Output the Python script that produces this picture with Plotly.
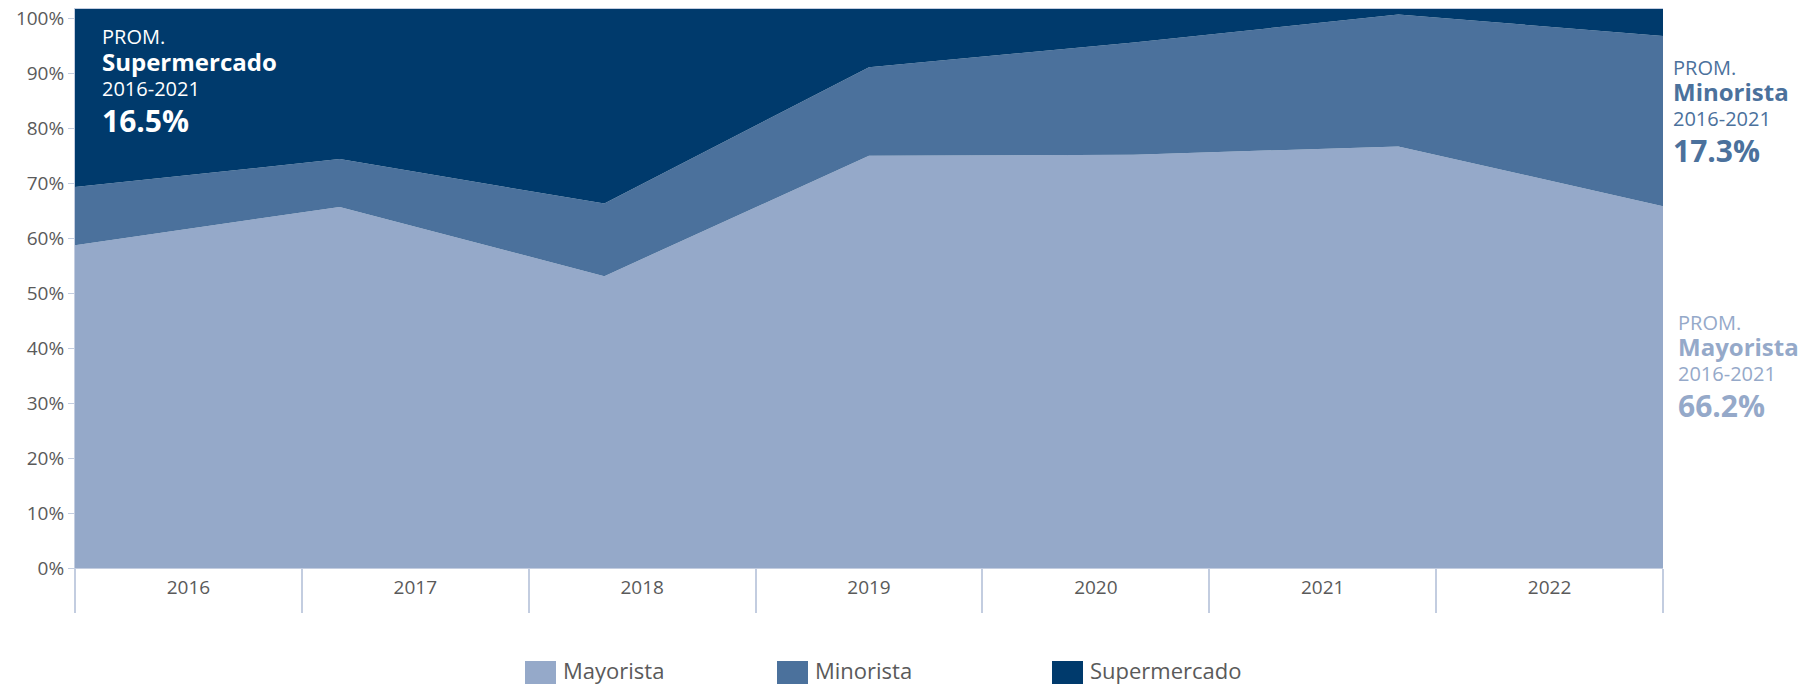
import plotly.graph_objects as go

# shares by channel (%)
years = ["2016", "2017", "2018", "2019", "2020", "2021", "2022"]
mayorista = [58.7, 65.7, 53.1, 75.0, 75.2, 76.7, 65.8]
minorista = [10.6, 8.7, 13.2, 16.1, 20.4, 24.0, 31.0]
supermercado = [32.4, 27.3, 35.4, 10.6, 6.1, 1.0, 4.9]

y_ticks = [0, 10, 20, 30, 40, 50, 60, 70, 80, 90, 100]

colors = {"Mayorista": "#95a9c9", "Minorista": "#4b719c", "Supermercado": "#003a6c"}
font = "Open Sans"
axis_col = "#c3cde0"
text_col = "#5a5a5a"

idx = list(range(len(years)))

fig = go.Figure()
for name, vals in [("Mayorista", mayorista), ("Minorista", minorista), ("Supermercado", supermercado)]:
    fig.add_trace(go.Scatter(
        x=idx, y=vals, name=name, stackgroup="one", mode="none",
        fillcolor=colors[name], showlegend=False, hoverinfo="skip",
    ))

# invisible trace to carry the category axis
fig.add_trace(go.Scatter(x=[0.5, 6.5], y=[0, 0], xaxis="x2", mode="none",
                         showlegend=False, hoverinfo="skip"))

# the page body adds an 8px offset, so margins are set relative to that
fig.update_layout(
    width=1818, height=684,
    margin=dict(l=67, r=163, t=1, b=124, autoexpand=False),
    paper_bgcolor="white", plot_bgcolor="white",
    font=dict(family=font, color=text_col, size=19),
    showlegend=False,
    xaxis=dict(range=[0, 6], showticklabels=False, ticks="", showgrid=False,
               zeroline=False, showline=True, linecolor=axis_col, mirror=True,
               automargin=False),
    xaxis2=dict(range=[0, 7], overlaying="x", side="bottom", showgrid=False,
                zeroline=False, tickvals=[i + 0.5 for i in idx], ticktext=years,
                ticks="outside", ticklen=2, tickcolor="rgba(0,0,0,0)",
                minor=dict(tickvals=list(range(8)), ticks="outside", ticklen=44,
                           tickcolor=axis_col, tickwidth=1.5),
                tickfont=dict(size=19, color=text_col), automargin=False),
    yaxis=dict(range=[0, 101.7], tickvals=y_ticks, ticktext=[f"{v}%" for v in y_ticks],
               showgrid=False, zeroline=False, showline=True, linecolor=axis_col,
               ticks="outside", ticklen=6, tickcolor=axis_col, automargin=False,
               ticklabeloverflow="allow",
               tickfont=dict(size=19, color=text_col)),
)


# screen pixel -> paper coords (plot area spans x 75..1663, y 9..568)
def px(x):
    return (x - 75) / 1588


def py(y):
    return (568 - y) / 559


# legend: swatch + label, drawn by hand to get the large swatches
for name, sx in [("Mayorista", 525), ("Minorista", 777), ("Supermercado", 1052)]:
    fig.add_shape(type="rect", xref="paper", yref="paper",
                  x0=px(sx), x1=px(sx + 31), y0=py(661), y1=py(692),
                  fillcolor=colors[name], line=dict(width=0), layer="above")
    fig.add_annotation(x=px(sx + 36), y=py(670), xref="paper", yref="paper",
                       xanchor="left", yanchor="middle", showarrow=False,
                       text=name, font=dict(family=font, size=22, color=text_col))


def prom(x, y, name, value, color):
    rows = [("PROM.", 20, False, 0), (name, 24, True, 24), ("2016-2021", 20, False, 51),
            (value, 30, True, 83)]
    for text, size, bold, dy in rows:
        fig.add_annotation(
            x=x, y=y, xref="paper", yref="paper", xanchor="left", yanchor="middle",
            yshift=-dy, showarrow=False, xshift=-3,
            text=f"<b>{text}</b>" if bold else text,
            font=dict(family=font, size=size, color=color),
        )


prom(px(103), py(37), "Supermercado", "16.5%", "white")
prom(px(1674), py(67), "Minorista", "17.3%", colors["Minorista"])
prom(px(1679), py(322), "Mayorista", "66.2%", colors["Mayorista"])

fig.write_html("out.html")
